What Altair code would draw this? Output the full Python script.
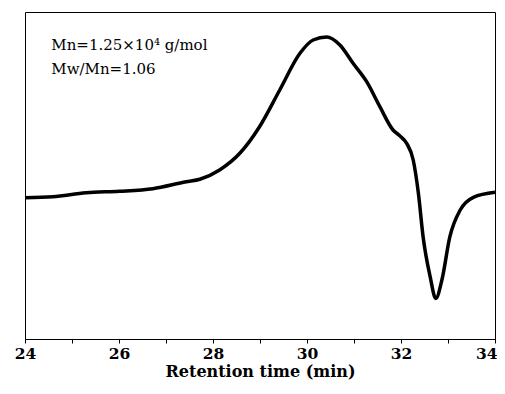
import altair as alt
import pandas as pd

# Retention time (min) and detector signal (arbitrary units)
time_min = [24.0, 24.59, 25.30, 26.01, 26.72, 27.43, 27.72, 28.14, 28.57, 28.99,
            29.42, 29.85, 30.13, 30.42, 30.70, 30.98, 31.27, 31.55, 31.83, 31.98,
            32.12, 32.26, 32.37, 32.47, 32.62, 32.74, 32.87, 33.04, 33.26, 33.54, 34.0]
signal = [141.3, 142.3, 146.3, 147.7, 150.3, 157.3, 159.7, 169.0, 185.7, 212.3,
          249.0, 285.7, 299.0, 302.0, 294.0, 275.7, 257.3, 232.3, 209.0, 203.0,
          195.7, 179.0, 145.7, 102.3, 62.3, 40.5, 59.0, 102.3, 129.0, 141.7, 146.7]

x_ticks = list(range(24, 35))
ann_lines = ["Mn=1.25×10⁴ g/mol", "Mw/Mn=1.06"]
ann_x = [24.56, 24.56]
ann_y = [289.5, 265.5]

df = pd.DataFrame({"t": time_min, "s": signal})
ann = pd.DataFrame({"text": ann_lines, "x": ann_x, "y": ann_y})

xscale = alt.Scale(domain=[24, 34], nice=False, zero=False)
yscale = alt.Scale(domain=[0, 327], nice=False, zero=False)

line = alt.Chart(df).mark_line(color="black", strokeWidth=3.5, interpolate="monotone").encode(
    x=alt.X("t:Q", scale=xscale,
            axis=alt.Axis(title="Retention time (min)", values=x_ticks,
                          labelExpr="datum.value % 2 == 0 ? datum.label : ''",
                          labelAlign={"condition": {"test": "datum.value == 34", "value": "right"},
                                      "value": "center"},
                          labelOffset={"condition": {"test": "datum.value == 34", "value": 2},
                                       "value": 0},
                          labelFont="DejaVu Serif", labelFontWeight="bold", labelFontSize=15.5,
                          labelColor="black", labelPadding=3,
                          titleFont="DejaVu Serif", titleFontWeight="bold", titleFontSize=16,
                          titleColor="black", titlePadding=2,
                          tickColor="black", tickSize=4, domainColor="black", domainWidth=1,
                          grid=False, labelFlush=False)),
    y=alt.Y("s:Q", scale=yscale, axis=None),
)

text = alt.Chart(ann).mark_text(align="left", baseline="alphabetic", font="DejaVu Serif",
                                fontSize=15, color="black").encode(
    x=alt.X("x:Q", scale=xscale), y=alt.Y("y:Q", scale=yscale), text="text:N")

chart = (line + text).properties(
    width=470, height=327,
    autosize=alt.AutoSizeParams(type="none"),
    padding={"left": 17, "top": 4, "right": 2, "bottom": 44},
    background="white",
).configure_view(stroke="black", strokeWidth=1)

chart.save("out.html", embed_options={"renderer": "svg", "actions": False})
